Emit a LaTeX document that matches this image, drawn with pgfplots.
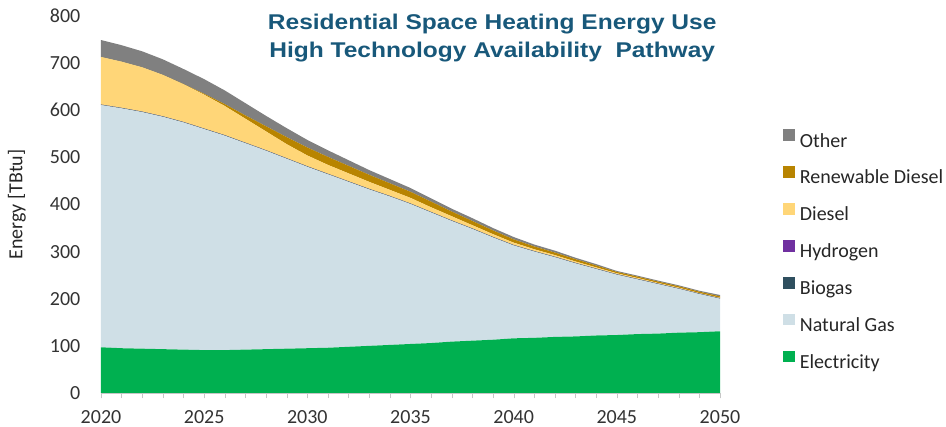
\documentclass[border=0pt]{standalone}
\usepackage{fontspec}
\setmainfont{Carlito}
\newfontfamily\titlefont[FakeStretch=1.15]{Liberation Sans}
\usepackage{pgfplots}
\usepackage{pgfplotstable}
\pgfplotsset{compat=1.18}

\definecolor{elec}{RGB}{0,176,80}
\definecolor{natgas}{RGB}{207,223,230}
\definecolor{biogas}{RGB}{47,79,95}
\definecolor{hydro}{RGB}{112,48,160}
\definecolor{diesel}{RGB}{255,214,120}
\definecolor{rdiesel}{RGB}{184,132,0}
\definecolor{other}{RGB}{128,128,128}
\definecolor{titleblue}{RGB}{24,88,122}

\pgfplotstableread{
year elec ng  bio h2 diesel rd  other
2020 97  514 1   0  101    0   36
2021 95  509 1   0  98     0   35
2022 94  502 1   0  94     0   34
2023 93  493 1   0  88     0   33
2024 92  482 1   0  80     0.5 32
2025 91  469 1   0  72     2   31
2026 91  455 1   0  62     4   29
2027 92  438 1   0  51     7   26
2028 93  421 1   0  40     11  22
2029 94  403 1   0  30     15  19
2030 95  385 1   0  23     17  16
2031 96  368 1   0  19     17  14
2032 98  350 1   0  17     16  12
2033 100 332 1   0  15     15  10
2034 102 315 1   0  13     14  9
2035 104 297 1   0  12     13  8
2036 106 277 1   0  10     12  7
2037 109 256 1   0  9      10  6
2038 111 237 1   0  7      9   6
2039 113 217 1   0  6      8   5
2040 116 197 1   0  5      7   5
2041 117 183 1   0  4      6   4
2042 119 169 1   0  3.5    5.5 4
2043 120 155 1   0  3      5   3
2044 122 141 1   0  2.5    4   3
2045 123 128 1   0  2      3   2
2046 125 116 1   0  2      3   2
2047 126 105 1   0  1.5    3   2
2048 128 93  1   0  1.5    3   2
2049 129 81  1   0  1      3   2
2050 131 69  1   0  1      3   3
}\heat

\begin{document}
\begin{tikzpicture}
\path[use as bounding box] (0,0) rectangle (709.5pt,320.25pt);
\begin{axis}[
  at={(75.75pt,25.5pt)}, anchor=south west,
  scale only axis, width=464.25pt, height=282.75pt,
  xmin=2020, xmax=2050, ymin=0, ymax=800,
  clip=false,
  stack plots=y,
  axis x line*=bottom, axis y line*=left,
  x axis line style={draw=gray!45},
  y axis line style={draw=none},
  xtick={2020,2025,...,2050},
  minor xtick={2020,2021,...,2050},
  tick align=outside,
  major tick length=4pt, minor tick length=4pt,
  xtick style={draw=gray!45},
  minor tick style={draw=gray!45},
  ytick={0,100,...,800},
  ytick style={draw=none},
  /pgf/number format/assume math mode=true,
  xticklabel style={/pgf/number format/1000 sep={}, yshift=-5.5pt},
  yticklabel style={xshift=-8pt},
  ticklabel style={font=\fontsize{15}{17}\selectfont, text=black!80},
  ylabel={Energy [TBtu]},
  ylabel style={at={(axis description cs:-0.136,0.50)}, anchor=center,
    font=\fontsize{15}{17}\selectfont, text=black!85},
  reverse legend,
  legend cell align=left,
  legend style={at={(axis description cs:1.095,0.707)}, anchor=north west,
    draw=none, fill=none, font=\fontsize{15}{17}\selectfont,
    text=black!85, row sep=10.9pt,
    nodes={inner xsep=3.8pt}},
  legend image code/.code={\fill[#1] (0pt,0pt) rectangle (8.8pt,8.8pt);},
]
\addplot[fill=elec, draw=none] table[x=year, y=elec] {\heat} \closedcycle;
\addlegendentry{Electricity}
\addplot[fill=natgas, draw=none] table[x=year, y=ng] {\heat} \closedcycle;
\addlegendentry{Natural Gas}
\addplot[fill=biogas, draw=none] table[x=year, y=bio] {\heat} \closedcycle;
\addlegendentry{Biogas}
\addplot[fill=hydro, draw=none] table[x=year, y=h2] {\heat} \closedcycle;
\addlegendentry{Hydrogen}
\addplot[fill=diesel, draw=none] table[x=year, y=diesel] {\heat} \closedcycle;
\addlegendentry{Diesel}
\addplot[fill=rdiesel, draw=none] table[x=year, y=rd] {\heat} \closedcycle;
\addlegendentry{Renewable Diesel}
\addplot[fill=other, draw=none] table[x=year, y=other] {\heat} \closedcycle;
\addlegendentry{Other}
\node[font=\titlefont\bfseries\fontsize{16}{21}\selectfont, text=titleblue,
  align=center] at (rel axis cs:0.632,0.942)
  {Residential Space Heating Energy Use\\High Technology Availability\ \ Pathway};
\end{axis}
\end{tikzpicture}
\end{document}
